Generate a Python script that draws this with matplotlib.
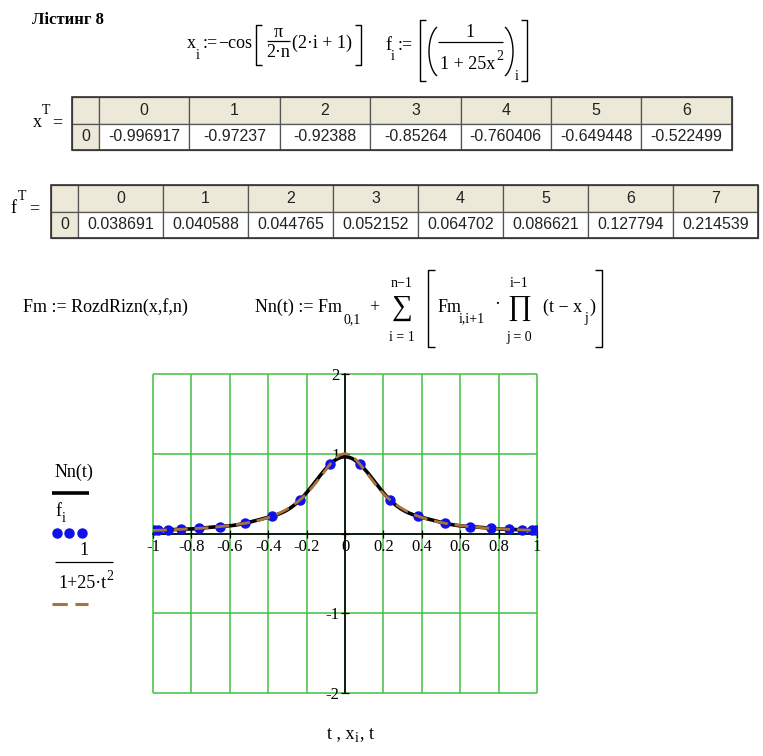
import numpy as np
import matplotlib
matplotlib.use("Agg")
import matplotlib.pyplot as plt
from matplotlib.patches import Rectangle
from matplotlib.lines import Line2D

plt.rcParams['font.family'] = ['Liberation Serif', 'DejaVu Serif']

# Chebyshev nodes (n = 20) and Runge function values at them
x_nodes = [-0.996917, -0.97237, -0.92388, -0.85264, -0.760406, -0.649448, -0.522499,
           -0.382683, -0.233445, -0.078459, 0.078459, 0.233445, 0.382683, 0.522499,
           0.649448, 0.760406, 0.85264, 0.92388, 0.97237, 0.996917]
f_nodes = [0.038691, 0.040588, 0.044765, 0.052152, 0.064702, 0.086621, 0.127794,
           0.214539, 0.423295, 0.86663, 0.86663, 0.423295, 0.214539, 0.127794,
           0.086621, 0.064702, 0.052152, 0.044765, 0.040588, 0.038691]

# Visible part of the result tables
x_table_cols = [0, 1, 2, 3, 4, 5, 6]
f_table_cols = [0, 1, 2, 3, 4, 5, 6, 7]

# Axis ticks and labels
x_ticks = [-1, -0.8, -0.6, -0.4, -0.2, 0, 0.2, 0.4, 0.6, 0.8, 1]
x_tick_labels = ['-1', '-0.8', '-0.6', '-0.4', '-0.2', '0', '0.2', '0.4', '0.6', '0.8', '1']
y_ticks = [-2, -1, 0, 1, 2]
y_tick_labels = ['-2', '-1', '', '1', '2']
x_grid = [-1, -0.8, -0.6, -0.4, -0.2, 0, 0.2, 0.4, 0.6, 0.8, 1]
y_grid = [-2, -1, 0, 1, 2]

W, H = 763, 756
fig = plt.figure(figsize=(W / 100, H / 100), dpi=100)
fig.patch.set_facecolor('white')

# Page layer in pixel coordinates
bg = fig.add_axes([0, 0, 1, 1])
bg.set_xlim(0, W)
bg.set_ylim(H, 0)
bg.axis('off')

MATH = 13
SUB = 10
SERIF = ['Liberation Serif', 'DejaVu Serif']


def T(x, y, s, size=MATH, ha='left', va='baseline', **kw):
    bg.text(x, y, s, fontsize=size, ha=ha, va=va, family=SERIF, **kw)


def L(xs, ys, lw=0.9, color='black'):
    bg.add_line(Line2D(xs, ys, color=color, lw=lw, solid_capstyle='butt'))


def bracket(x0, x1, y0, y1, side):
    # square bracket: side='l' opens right, side='r' opens left
    if side == 'l':
        L([x1, x0, x0, x1], [y0, y0, y1, y1], lw=1.0)
    else:
        L([x0, x1, x1, x0], [y0, y0, y1, y1], lw=1.0)


def paren(x0, x1, y0, y1, side):
    th = np.linspace(-1.15, 1.15, 40)
    yc, ry = (y0 + y1) / 2, (y1 - y0) / 2 / np.sin(1.15)
    if side == 'l':
        xs = x1 - (x1 - x0) * (np.cos(th) - np.cos(1.15)) / (1 - np.cos(1.15))
    else:
        xs = x0 + (x1 - x0) * (np.cos(th) - np.cos(1.15)) / (1 - np.cos(1.15))
    L(xs, yc + ry * np.sin(th), lw=1.0)


# Title
bg.text(32, 24, 'Лістинг 8', fontsize=12, fontweight='bold', ha='left', va='baseline',
        family=SERIF)

# x_i := -cos[ pi/(2n) (2i+1) ]
T(187, 48, 'x')
T(196, 59, 'i', SUB)
T(203, 48, ':=')
T(218, 48, '−cos')
bracket(256, 262, 25, 65, 'l')
T(278, 37, 'π', ha='center')
L([267, 290], [41, 41])
T(278, 57, '2·n', ha='center')
T(292, 48, '(2·i + 1)')
bracket(355, 361, 25, 65, 'r')

# f_i := [ (1/(1+25x^2))_i ]
T(385, 50, 'f')
T(391, 60, 'i', SUB)
T(398, 50, ':=')
bracket(420, 426, 20, 81, 'l')
paren(429, 437, 27, 76, 'l')
T(470, 37, '1', ha='center')
L([438, 503], [42, 42])
T(440, 69, '1 + 25x')
T(496, 60, '2', SUB)
paren(505, 513, 27, 76, 'r')
T(515, 80, 'i', SUB)
bracket(521, 527, 20, 81, 'r')


def fmt(v):
    return f'{v:.6f}'.rstrip('0').rstrip('.')


TFONT = 11.5


def draw_table(x0, y0, hdr_w, col_w, row_h, cols, vals):
    beige = '#ece9d8'
    edge = '#555555'
    n = len(cols)
    bg.add_patch(Rectangle((x0, y0), hdr_w, row_h, facecolor=beige, edgecolor=edge, lw=0.9))
    bg.add_patch(Rectangle((x0, y0 + row_h), hdr_w, row_h, facecolor=beige, edgecolor=edge, lw=0.9))
    bg.text(x0 + hdr_w / 2, y0 + 1.5 * row_h, '0', family='Liberation Sans', fontsize=TFONT,
            ha='center', va='center', color='#222222')
    for k, c in enumerate(cols):
        cx = x0 + hdr_w + k * col_w
        bg.add_patch(Rectangle((cx, y0), col_w, row_h, facecolor=beige, edgecolor=edge, lw=0.9))
        bg.add_patch(Rectangle((cx, y0 + row_h), col_w, row_h, facecolor='white', edgecolor=edge, lw=0.9))
        bg.text(cx + col_w / 2, y0 + 0.5 * row_h, str(c), family='Liberation Sans', fontsize=TFONT,
                ha='center', va='center', color='#222222')
        bg.text(cx + col_w / 2, y0 + 1.5 * row_h, fmt(vals[k]), family='Liberation Sans',
                fontsize=TFONT, ha='center', va='center', color='#222222')
    bg.add_patch(Rectangle((x0, y0), hdr_w + n * col_w, 2 * row_h, facecolor='none',
                           edgecolor='#333333', lw=1.2))


T(33, 127, 'x')
T(42, 114, 'T', SUB)
T(52, 127, '=')
draw_table(72, 97, 27, 90.4, 26.5, x_table_cols, x_nodes[:len(x_table_cols)])

T(10, 213, 'f')
T(18, 200, 'T', SUB)
T(29, 213, '=')
draw_table(51, 185, 27, 85, 26.5, f_table_cols, f_nodes[:len(f_table_cols)])

# Fm := RozdRizn(x,f,n)
T(23, 312, 'Fm := RozdRizn(x,f,n)')

# Nn(t) := Fm_{0,1} + sum [ Fm_{i,i+1} * prod (t - x_j) ]
T(255, 312, 'Nn(t) := Fm')
T(343, 323, '0,1', SUB)
T(369, 312, '+')
T(402, 287, 'n−1', SUB, ha='center')
T(402, 308, '∑', 21, ha='center', va='center')
T(402, 341, 'i = 1', SUB, ha='center')
bracket(428, 435, 270, 347, 'l')
T(438, 312, 'Fm')
T(459, 322, 'i,i+1', SUB)
T(494, 309, '·')
T(519, 287, 'i−1', SUB, ha='center')
T(519, 308, '∏', 21, ha='center', va='center')
T(519, 341, 'j = 0', SUB, ha='center')
T(543, 312, '(t − x')
T(584, 322, 'j', SUB)
T(589, 312, ')')
bracket(595, 602, 270, 347, 'r')

# Legend column
BROWN = '#a8743c'
BLUE = '#1010e8'
T(55, 477, 'Nn(t)')
L([52, 89], [493, 493], lw=2.6)
T(55, 516, 'f')
T(62, 522, 'i', SUB)
bg.add_line(Line2D([57, 69, 82], [533, 533, 533], ls='none', marker='o', ms=6.5,
                   color=BLUE))
T(84, 555, '1', ha='center')
L([55, 113], [562, 562])
T(58, 588, '1+25·t')
T(106, 580, '2', SUB)
bg.add_line(Line2D([52, 88], [604, 604], color=BROWN, lw=2.2, dashes=(5, 2.5)))

T(327, 738, 't , x')
T(355, 742, 'i', SUB)
T(360, 738, ', t')


# Newton divided-difference interpolation through the nodes
def divided_differences(xs, ys):
    xs = np.asarray(xs, float)
    coef = np.array(ys, float)
    for k in range(1, len(xs)):
        coef[k:] = (coef[k:] - coef[k - 1:-1]) / (xs[k:] - xs[:-k])
    return coef


def newton_eval(coef, xs, t):
    xs = np.asarray(xs, float)
    res = np.full_like(t, coef[-1])
    for k in range(len(coef) - 2, -1, -1):
        res = res * (t - xs[k]) + coef[k]
    return res


Fm = divided_differences(x_nodes, f_nodes)
t = np.linspace(-1, 1, 801)
Nn = newton_eval(Fm, x_nodes, t)
runge = 1.0 / (1.0 + 25.0 * t ** 2)

ax = fig.add_axes([153 / W, 1 - 693 / H, 384 / W, 319 / H])
ax.set_facecolor('none')
ax.set_xlim(-1, 1)
ax.set_ylim(-2, 2)
GREEN = '#40c040'
ax.vlines(x_grid, -2, 2, color=GREEN, lw=1.1, zorder=1, clip_on=False)
ax.hlines(y_grid, -1, 1, color=GREEN, lw=1.1, zorder=1, clip_on=False)

ax.plot(t, Nn, color='black', lw=2.6, zorder=3)
ax.plot(x_nodes, f_nodes, 'o', color=BLUE, ms=6.5, zorder=4)
ax.plot(t, runge, color=BROWN, lw=2.0, dashes=(5, 2.5), zorder=5)

for s in ['top', 'right']:
    ax.spines[s].set_visible(False)
ax.spines['left'].set_position(('data', 0))
ax.spines['bottom'].set_position(('data', 0))
for s in ['left', 'bottom']:
    ax.spines[s].set_color('black')
    ax.spines[s].set_linewidth(1.2)
    ax.spines[s].set_zorder(2)
ax.set_xticks(x_ticks)
ax.set_xticklabels(x_tick_labels)
ax.set_yticks(y_ticks)
ax.set_yticklabels(y_tick_labels)
ax.tick_params(direction='inout', length=6, width=0.9, labelsize=12, pad=1)

fig.savefig('out.png', dpi=100, facecolor='white')
